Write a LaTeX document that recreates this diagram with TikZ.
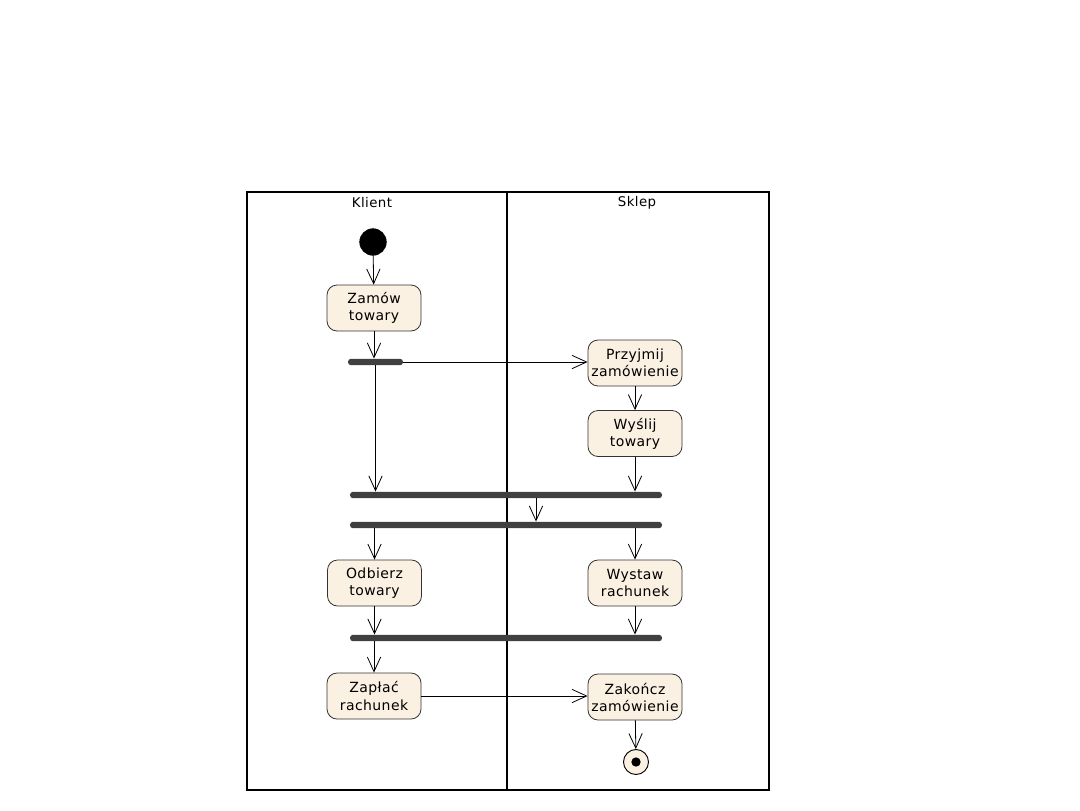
\documentclass[tikz,border=0pt]{standalone}
\usepackage{fontspec}
\setmainfont{DejaVu Sans}[LetterSpace=3]
\usetikzlibrary{arrows.meta}
\definecolor{actfill}{RGB}{251,241,227}
\definecolor{bargray}{RGB}{64,64,64}
\begin{document}
\begin{tikzpicture}[x=0.75pt,y=-0.75pt,
  act/.style={draw=black!80,fill=actfill,rounded corners=7.5pt,minimum width=70.5pt,minimum height=34.5pt,
    align=center,font=\fontsize{10.5}{12.8}\selectfont,inner sep=1pt,line width=0.6pt},
  bar/.style={fill=bargray,rounded corners=2.2pt,minimum height=4.8pt,inner sep=0pt},
  arr/.style={-{Straight Barb[length=11pt,width=10pt,line width=0.6pt]},line width=0.6pt},
  lane/.style={line width=0.8pt},
  title/.style={font=\fontsize{10}{12}\selectfont}]
\useasboundingbox (0,0) rectangle (1080,810);
% swimlanes
\draw[lane] (247,192) rectangle (769,790);
\draw[lane] (507,192) -- (507,790);
\node[title] (klient) at (372,203) {Klient};
\node[title] (sklep) at (637,203) {Sklep};
% nodes
\node[circle,fill=black,draw=black,minimum size=20pt,inner sep=0pt] (init) at (373,242) {};
\node[act] (zamow) at (374,308) {Zamów\\towary};
\node[bar,minimum width=41.25pt] (f1) at (375.5,362) {};
\node[act] (przyjmij) at (635,363) {Przyjmij\\zamówienie};
\node[act] (wyslij) at (635,433.5) {Wyślij\\towary};
\node[bar,minimum width=234pt] (j1) at (506,495) {};
\node[bar,minimum width=234pt] (j2) at (506,525) {};
\coordinate (mid) at (536,510);
\node[act] (odbierz) at (374.5,583) {Odbierz\\towary};
\node[act] (wystaw) at (635,583) {Wystaw\\rachunek};
\node[bar,minimum width=234pt] (j3) at (506,638) {};
\node[act] (zaplac) at (374,696) {Zapłać\\rachunek};
\node[act] (zakoncz) at (635,697) {Zakończ\\zamówienie};
\node[circle,draw=black,fill=actfill,line width=0.7pt,minimum size=18.75pt,inner sep=0pt] (final) at (636,762) {};
\node[circle,fill=black,minimum size=7pt,inner sep=0pt] (finaldot) at (final) {};
% connectors
\draw[arr] (init) -- (zamow);
\draw[arr] (zamow.south) -- (zamow.south |- f1.north);
\draw[arr] (f1.east) -- (f1.east -| przyjmij.west);
\draw[arr] (f1.south) -- (f1.south |- j1.north);
\draw[arr] (przyjmij) -- (wyslij);
\draw[arr] (wyslij.south) -- (wyslij.south |- j1.north);
\draw[arr] (j1.south -| mid) -- (j2.north -| mid);
\draw[arr] (j2.south -| odbierz.north) -- (odbierz.north);
\draw[arr] (j2.south -| wystaw.north) -- (wystaw.north);
\draw[arr] (odbierz.south) -- (odbierz.south |- j3.north);
\draw[arr] (wystaw.south) -- (wystaw.south |- j3.north);
\draw[arr] (j3.south -| zaplac.north) -- (zaplac.north);
\draw[arr] (zaplac.east) -- (zaplac.east -| zakoncz.west);
\draw[arr] (zakoncz) -- (final);
\end{tikzpicture}
\end{document}
